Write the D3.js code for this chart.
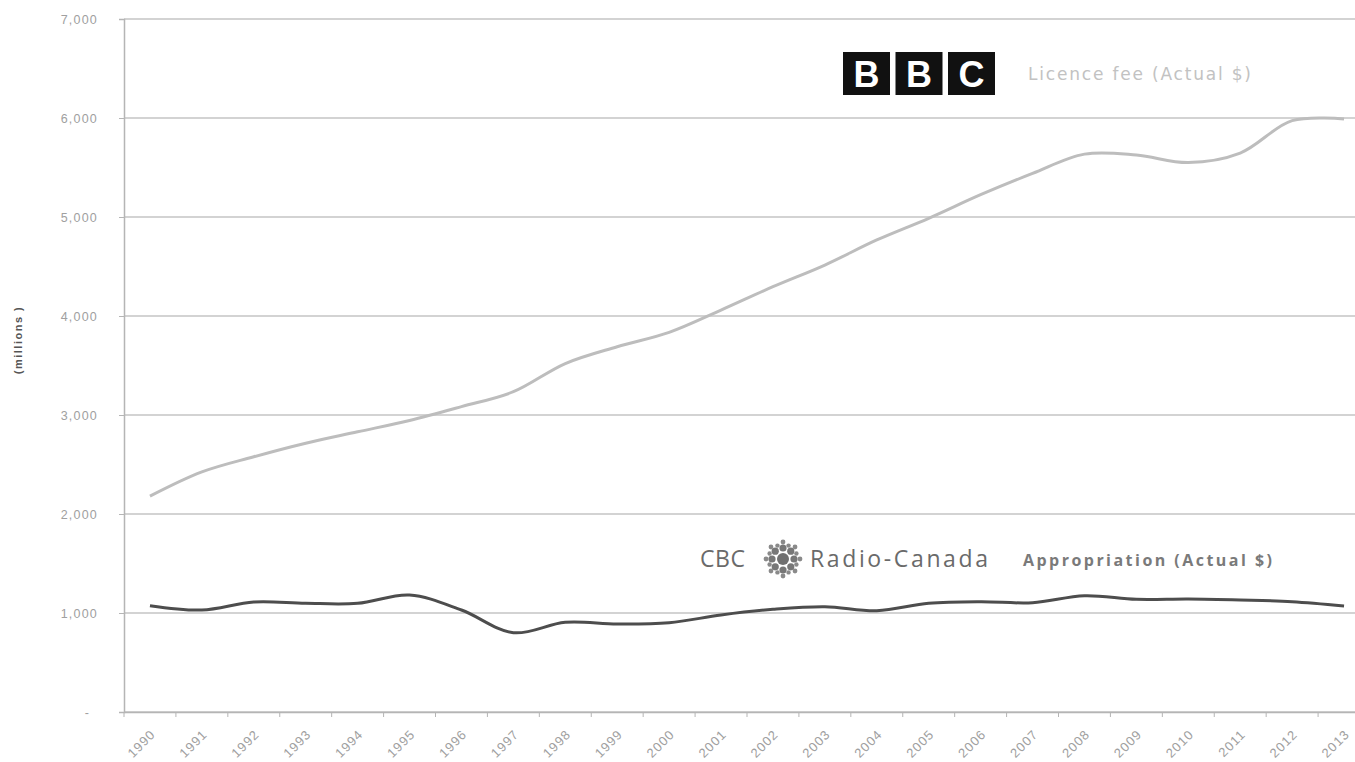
<!DOCTYPE html>
<html>
<head>
<meta charset="utf-8">
<script src="https://cdn.jsdelivr.net/npm/d3@7"></script>
<style>
  html, body { margin: 0; padding: 0; background: #fff; }
  svg { display: block; font-family: "Liberation Sans", Arial, sans-serif; }
</style>
</head>
<body>
<svg id="chart" width="1355" height="762"></svg>
<script>
const years = ["1990","1991","1992","1993","1994","1995","1996","1997","1998","1999","2000","2001","2002","2003","2004","2005","2006","2007","2008","2009","2010","2011","2012","2013"];
const bbcLicenceFee = [2180,2425,2578,2715,2830,2945,3085,3235,3520,3690,3835,4060,4296,4515,4768,4987,5225,5440,5635,5626,5550,5646,5973,5990];
const cbcAppropriation = [1074,1030,1111,1098,1098,1182,1030,801,906,889,902,980,1037,1064,1023,1098,1114,1104,1175,1138,1141,1131,1114,1071];
const yTicks = [0,1000,2000,3000,4000,5000,6000,7000];
const bbcLabel = "Licence fee (Actual $)";
const cbcLabel = "Appropriation (Actual $)";
const yAxisTitle = "(millions )";

(function () {
const svg = d3.select("#chart");
const mLeft = 124, mRight = 1370, mTop = 19, mBottom = 712;

const x = d3.scaleBand().domain(years).range([mLeft, mRight]).padding(0);
const y = d3.scaleLinear().domain([0, 7000]).range([mBottom, mTop]);
const cx = d => x(d) + x.bandwidth() / 2;

// gridlines
svg.append("g")
  .selectAll("line")
  .data(yTicks)
  .join("line")
  .attr("x1", mLeft).attr("x2", mRight)
  .attr("y1", d => y(d)).attr("y2", d => y(d))
  .attr("stroke", "#c4c4c4").attr("stroke-width", 1.3);

// y axis
const yAxis = svg.append("g").attr("transform", `translate(${mLeft},0)`)
  .call(d3.axisLeft(y).tickValues(yTicks).tickSize(5).tickPadding(21)
    .tickFormat(d => d === 0 ? "-" : d3.format(",")(d)));
yAxis.select(".domain").attr("stroke", "#b5b5b5").attr("stroke-width", 1.5);
yAxis.selectAll(".tick line").attr("stroke", "#b5b5b5");
yAxis.selectAll("text").attr("fill", "#a0a0a0").attr("font-size", 12.5)
  .attr("letter-spacing", 1.2)
  .attr("dx", d => d === 0 ? -8 : 0);

// x axis
const xAxis = svg.append("g").attr("transform", `translate(0,${mBottom})`)
  .call(d3.axisBottom(x).tickSize(0));
xAxis.select(".domain").attr("stroke", "#b5b5b5").attr("stroke-width", 1.5);
xAxis.selectAll("text")
  .attr("fill", "#a0a0a0").attr("font-size", 13)
  .attr("letter-spacing", 1)
  .attr("text-anchor", "end")
  .attr("x", 0).attr("y", 0).attr("dy", "0.35em")
  .attr("transform", "translate(3,20) rotate(-45)");
// boundary ticks
svg.append("g").selectAll("line")
  .data(years)
  .join("line")
  .attr("x1", d => x(d)).attr("x2", d => x(d))
  .attr("y1", mBottom).attr("y2", mBottom + 5)
  .attr("stroke", "#b5b5b5");

// y axis title
svg.append("text")
  .attr("transform", "translate(22,340) rotate(-90)")
  .attr("text-anchor", "middle")
  .attr("font-size", 11).attr("font-weight", "bold").attr("fill", "#555")
  .attr("letter-spacing", 1.5)
  .text(yAxisTitle);

// lines
const line = d3.line()
  .x((d, i) => cx(years[i]))
  .y(d => y(d))
  .curve(d3.curveCatmullRom.alpha(0.5));

svg.append("path").datum(bbcLicenceFee)
  .attr("d", line).attr("fill", "none")
  .attr("stroke", "#bdbdbd").attr("stroke-width", 3).attr("stroke-linejoin", "round");

svg.append("path").datum(cbcAppropriation)
  .attr("d", line).attr("fill", "none")
  .attr("stroke", "#4d4d4d").attr("stroke-width", 3).attr("stroke-linejoin", "round");

// BBC logo
const bbc = svg.append("g").attr("transform", "translate(843,52)");
["B","B","C"].forEach((ch, i) => {
  bbc.append("rect").attr("x", i * 52.5).attr("y", 0).attr("width", 47).attr("height", 43).attr("fill", "#111");
  bbc.append("text").attr("x", i * 52.5 + 23.5).attr("y", 35)
    .attr("text-anchor", "middle").attr("font-size", 36).attr("font-weight", "bold")
    .attr("fill", "#fff").text(ch);
});
svg.append("text").attr("x", 1028).attr("y", 80)
  .attr("font-size", 17).attr("fill", "#c2c2c2").attr("font-family", "'DejaVu Sans', sans-serif")
  .attr("textLength", 223).text(bbcLabel);

// CBC logo
const cbcFont = "'Open Sans', 'DejaVu Sans', sans-serif";
svg.append("text").attr("x", 700).attr("y", 567)
  .attr("font-size", 23).attr("fill", "#6a6a6a").attr("font-family", cbcFont)
  .attr("textLength", 45).text("CBC");
const gem = svg.append("g").attr("transform", "translate(783,559)");
gem.append("circle").attr("r", 6).attr("fill", "#707070");
const ring = [0,1,2,3,4,5,6,7];
gem.selectAll("circle.r1").data(ring).join("circle").attr("class", "r1")
  .attr("cx", k => Math.cos(k * Math.PI / 4) * 11)
  .attr("cy", k => Math.sin(k * Math.PI / 4) * 11)
  .attr("r", 3.6).attr("fill", "#777");
gem.selectAll("circle.r2").data(ring).join("circle").attr("class", "r2")
  .attr("cx", k => Math.cos(k * Math.PI / 4) * 17)
  .attr("cy", k => Math.sin(k * Math.PI / 4) * 17)
  .attr("r", 2.4).attr("fill", "#8a8a8a");
gem.selectAll("circle.r3").data(ring).join("circle").attr("class", "r3")
  .attr("cx", k => Math.cos(k * Math.PI / 4 + Math.PI / 8) * 14.5)
  .attr("cy", k => Math.sin(k * Math.PI / 4 + Math.PI / 8) * 14.5)
  .attr("r", 2.2).attr("fill", "#8a8a8a");
svg.append("text").attr("x", 810).attr("y", 567)
  .attr("font-size", 23).attr("fill", "#6a6a6a").attr("font-family", cbcFont)
  .attr("textLength", 178).text("Radio-Canada");
svg.append("text").attr("x", 1023).attr("y", 566)
  .attr("font-size", 16).attr("fill", "#7a7a7a").attr("font-weight", "bold").attr("font-family", cbcFont)
  .attr("textLength", 249).text(cbcLabel);
})();
</script>
</body>
</html>
